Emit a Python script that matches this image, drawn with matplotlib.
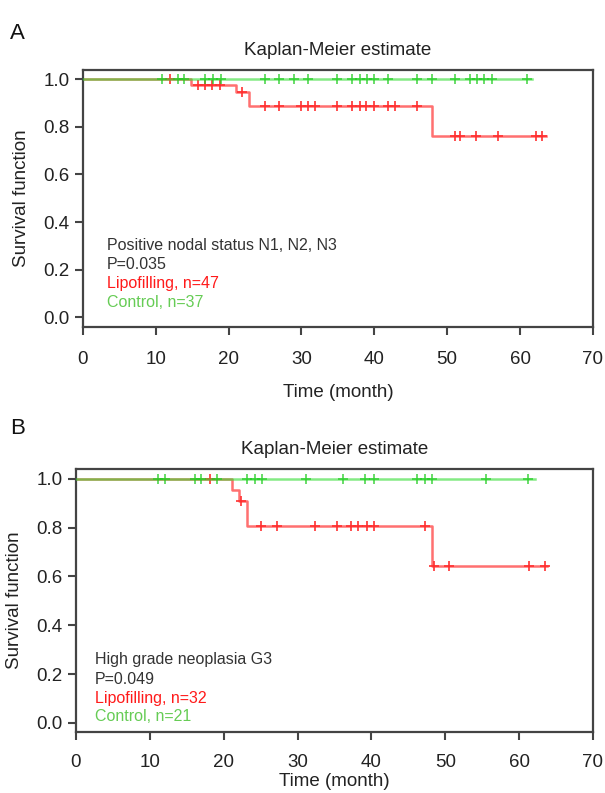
import numpy as np
import matplotlib
matplotlib.use("Agg")
import matplotlib.pyplot as plt

plt.rcParams['font.family'] = ['Liberation Sans', 'DejaVu Sans']

# Panel A - positive nodal status
a_lipo_times = [0, 14.8, 21.0, 22.8, 47.9]
a_lipo_surv = [1.0, 0.975, 0.945, 0.885, 0.76]
a_lipo_end = 63.6
a_lipo_cens = [12.0, 15.8, 16.7, 17.7, 18.8, 21.8, 25.0, 26.9, 30.0, 30.9, 31.8,
               34.9, 36.9, 38.0, 38.9, 39.9, 41.9, 42.9, 45.9, 51.1, 51.7, 54.0,
               57.0, 62.2, 63.0]
a_ctrl_end = 61.7
a_ctrl_cens = [10.9, 13.0, 13.9, 16.8, 17.8, 18.9, 25.0, 26.9, 29.0, 30.9, 34.9,
               37.0, 38.0, 39.0, 39.9, 41.9, 45.9, 47.9, 51.1, 53.1, 54.1, 55.0,
               56.1, 61.0]
a_text = ["Positive nodal status N1, N2, N3", "P=0.035",
          "Lipofilling, n=47", "Control, n=37"]

# Panel B - high grade neoplasia
b_lipo_times = [0, 21.1, 22.1, 23.1, 48.2]
b_lipo_surv = [1.0, 0.955, 0.907, 0.805, 0.643]
b_lipo_end = 63.8
b_lipo_cens = [18.1, 22.4, 25.1, 27.2, 32.3, 35.3, 37.3, 38.2, 39.4, 40.4, 47.3,
               48.5, 50.5, 61.3, 63.5]
b_ctrl_end = 62.1
b_ctrl_cens = [11.1, 12.1, 16.1, 16.9, 19.1, 23.1, 24.2, 25.2, 31.1, 36.2, 39.2,
               40.3, 46.2, 47.2, 48.2, 55.5, 61.2]
b_text = ["High grade neoplasia G3", "P=0.049",
          "Lipofilling, n=32", "Control, n=21"]

x_ticks = [0, 10, 20, 30, 40, 50, 60, 70]
y_ticks = [0.0, 0.2, 0.4, 0.6, 0.8, 1.0]

RED_LINE = '#ff7070'
RED_MARK = '#ff3030'
GREEN_LINE = '#33dd33'
GREEN_MARK = '#22cc22'
TEXT_COLORS = ['#333333', '#333333', '#ff1a1a', '#66cc55']
FS = 13.5


def surv_at(t, times, surv):
    idx = np.searchsorted(times, t, side='right') - 1
    return np.array(surv)[idx]


def draw_panel(ax, lipo_times, lipo_surv, lipo_end, lipo_cens,
               ctrl_end, ctrl_cens, lines, text_x, text_y):
    # lipofilling curve
    xs = list(lipo_times) + [lipo_end]
    ys = list(lipo_surv) + [lipo_surv[-1]]
    ax.step(xs, ys, where='post', color=RED_LINE, lw=1.8, zorder=2)
    ax.plot(lipo_cens, surv_at(lipo_cens, lipo_times, lipo_surv), ls='none',
            marker='+', ms=7, mew=1.2, color=RED_MARK, zorder=3)
    # control curve (no events)
    ax.plot([0, ctrl_end], [1.0, 1.0], color=GREEN_LINE, lw=1.8, alpha=0.6, zorder=4)
    ax.plot(ctrl_cens, np.ones(len(ctrl_cens)), ls='none', marker='+', ms=7,
            mew=1.2, color=GREEN_MARK, alpha=0.8, zorder=5)

    for i, (s, c) in enumerate(zip(lines, TEXT_COLORS)):
        ax.text(text_x, text_y[i], s, color=c, fontsize=11.5, va='center', ha='left')

    ax.set_xlim(0, 70)
    ax.set_xticks(x_ticks)
    ax.set_yticks(y_ticks)
    ax.set_yticklabels([f"{v:.1f}" for v in y_ticks])
    ax.set_title("Kaplan-Meier estimate", fontsize=FS, color='#222222', pad=11)
    ax.set_ylabel("Survival function", fontsize=FS, color='#222222', labelpad=10)
    ax.tick_params(axis='both', labelsize=FS, colors='#444444', labelcolor='#222222',
                   length=6, width=1.5, direction='out')
    for sp in ax.spines.values():
        sp.set_color('#444444')
        sp.set_linewidth(1.6)


fig = plt.figure(figsize=(6.05, 7.93), dpi=100)

ax1 = fig.add_axes([0.137, 0.5877, 0.843, 0.3240])
draw_panel(ax1, a_lipo_times, a_lipo_surv, a_lipo_end, a_lipo_cens,
           a_ctrl_end, a_ctrl_cens, a_text, 3.3, [0.30, 0.22, 0.143, 0.063])
ax1.set_ylim(-0.04, 1.038)
ax1.set_xlabel("Time (month)", fontsize=FS, color='#222222', labelpad=12)
ax1.tick_params(axis='x', pad=11)

ax2 = fig.add_axes([0.1256, 0.0769, 0.8544, 0.3317])
draw_panel(ax2, b_lipo_times, b_lipo_surv, b_lipo_end, b_lipo_cens,
           b_ctrl_end, b_ctrl_cens, b_text, 2.6, [0.258, 0.18, 0.102, 0.025])
ax2.set_ylim(-0.037, 1.04)
ax2.set_xlabel("Time (month)", fontsize=FS, color='#222222', labelpad=1)
ax2.tick_params(axis='x', pad=10)

fig.text(0.017, 0.958, "A", fontsize=16, color='#111111', va='center')
fig.text(0.017, 0.460, "B", fontsize=16, color='#111111', va='center')

fig.savefig("out.png", dpi=100, facecolor='white')
